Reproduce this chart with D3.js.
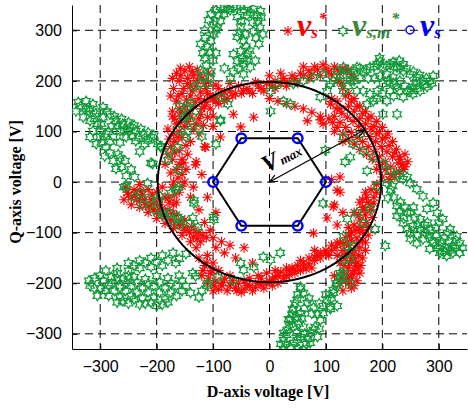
<!DOCTYPE html>
<html><head><meta charset="utf-8">
<script src="https://cdn.jsdelivr.net/npm/d3@7"></script>
<style>body{margin:0;background:#fff}</style>
</head><body><div id="chart"></div>
<script>
const xTicks = [-300,-200,-100,0,100,200,300]
const yTicks = [-300,-200,-100,0,100,200,300]
const vmax = 198
const hexVerts = [[100,0],[50,86.6],[-50,86.6],[-100,0],[-50,-86.6],[50,-86.6]]
const arrowEnds = [[0,0],[168,103]]

// v_s* (red asterisks)
const redPts = [
  [-165,215],[-150,220],[-135,210],[-120,205],[-160,200],[-145,195],[-130,190],[-112,185],[-170,185],[-155,175],[-140,170],[-125,165],[-105,170],[-165,160],[-150,150],[-135,150],[-120,145],[-172,140],[-158,130],[-140,128],[-125,125],[-165,115],[-150,110],[-135,105],[-170,95],[-155,88],[-140,80],[-175,70],[-160,62],[-145,55],[-172,45],[-160,35],[-148,25],[-175,18],[-162,8],[-150,0],[-172,-10],[-160,-20],[-178,-30],[-165,-40],
  [-158,225],[-142,228],[-128,222],[-145,205],[-115,195],[-175,170],[-160,145],[-145,140],[-168,125],[-180,105],[-160,100],[-145,120],[-168,80],[-180,55],[-155,45],[-165,25],[-185,35],[-170,0],[-155,-8],
  [-172,205],[-157,210],[-137,218],[-123,212],[-108,198],[-152,185],[-137,180],[-122,178],[-162,170],[-147,162],[-132,158],[-112,158],[-157,138],[-142,135],[-130,115],[-117,112],[-172,130],[-158,118],[-162,88],[-148,72],[-168,58],[-152,38],[-178,85],[-168,-25],[-155,15],[-140,190],[-128,200],[-108,215],
  [-115,150],[-100,130],[-125,95],[-115,70],[-130,40],[-120,15],[-135,-10],[-110,-30],[-100,110],[-95,160],[-125,-55],[-110,128],[-131,34],[-140,-30],[-87,89],[-113,69],
  [-122,134],[-105,145],[-90,155],[-75,165],[-60,175],[-46,180],[-100,165],[-85,172],[-70,180],[-115,160],[-40,185],[-30,175],[-55,190],[-70,195],[-90,185],[-64,134],[-28,128],[-51,109],
  [-95,170],[-80,160],[-65,170],[-50,175],[-35,180],[-15,185],[-25,198],[5,190],[20,195],[35,198],[45,205],[60,210],[75,212],[80,228],[105,218],[120,222],[140,222],[150,205],[-110,175],[-95,192],[-80,178],
  [-20,190],[-5,195],[10,200],[25,205],[40,210],[55,215],[70,220],[85,222],[100,225],[115,228],[10,185],[30,190],[50,195],[70,205],[90,210],[110,212],[125,215],[130,225],[134,221],[145,212],[-10,180],[0,210],[20,215],[60,228],[95,232],
  [0,165],[15,160],[30,155],[45,150],[60,145],[75,138],[90,130],[105,125],[67,121],[95,115],[90,123],
  [120,200],[130,185],[140,175],[150,165],[160,150],[170,140],[180,130],[190,120],[200,108],[210,95],[218,80],[225,65],[230,50],[235,35],[230,20],[222,10],[108,154],[118,145],[128,136],[138,128],[148,120],[158,110],[168,100],[178,90],[188,80],[198,70],[208,60],[218,50],[228,38],[237,25],[225,20],[215,30],[205,40],[195,50],[185,60],[175,70],[165,80],[155,88],[145,98],[135,108],[125,118],[115,130],[200,10],[190,25],[245,40],[110,165],[120,160],[115,100],[130,80],[240,55],[212,5],[125,10],[120,-16],[113,-49],[102,-71],
  [128,195],[135,170],[145,160],[155,150],[165,135],[175,125],[185,110],[195,100],[205,88],[212,72],[222,58],[232,45],[240,30],[215,15],[205,25],[195,35],[182,45],[172,55],[160,65],[150,75],[140,85],[130,95],[120,108],[112,118],[125,145],[140,150],[150,140],[160,125],[170,115],[180,105],[190,95],[200,85],
  [125,-200],[135,-195],[145,-190],[130,-180],[140,-170],[150,-175],[160,-180],[125,-160],[135,-150],[145,-155],[155,-160],[165,-150],[130,-135],[140,-125],[150,-135],[160,-130],[170,-120],[135,-110],[145,-100],[155,-110],[165,-100],[175,-90],[150,-85],[160,-75],[170,-65],[180,-55],[165,-50],[175,-40],[185,-30],[180,-15],[190,-5],[170,-20],[140,-90],[120,-145],[115,-185],[145,-210],[130,-215],[110,5],[125,-20],[115,-45],[130,-60],[120,-85],[155,-195],[150,-150],[140,-140],[125,-120],[160,-95],[150,-60],[160,-40],[190,-20],[78,-101],
  [128,-190],[138,-185],[148,-182],[158,-170],[132,-165],[142,-160],[152,-165],[162,-165],[128,-148],[138,-142],[148,-145],[158,-145],[170,-135],[132,-122],[145,-115],[155,-122],[165,-115],[175,-105],[142,-105],[152,-95],[162,-88],[172,-80],[182,-70],[158,-65],[168,-55],[178,-45],[172,-30],[185,-42],[165,-35],[140,-200],[150,-205],
  [-125,-150],[-115,-165],[-105,-180],[-95,-195],[-85,-205],[-110,-200],[-75,-215],[-60,-210],[-65,-195],[-50,-218],[-40,-205],[-30,-215],[-20,-200],[-10,-210],[0,-195],[-5,-180],[10,-188],[20,-178],[30,-185],[40,-170],[50,-165],[60,-160],[70,-150],[80,-155],[90,-140],[100,-135],[110,-125],[120,-120],[75,-170],[45,-180],[15,-200],[-35,-190],[-90,-175],[-100,-160],[-110,-145],[-95,-130],[-80,-140],[-70,-125],[-60,-150],[-45,-130],[-30,-160],[-100,-110],[-85,-118],[-120,-185],[-100,-215],[-80,-190],[-55,-200],[-15,-190],[5,-205],[35,-175],[65,-172],[85,-145],[105,-145],
  [-118,-175],[-108,-190],[-98,-205],[-90,-212],[-82,-198],[-70,-205],[-58,-215],[-45,-212],[-35,-205],[-25,-208],[-15,-203],[-5,-200],[5,-193],[15,-185],[25,-190],[35,-183],[45,-172],[55,-175],[60,-168],[70,-162],[80,-148],[90,-150],[100,-142],[110,-135],[118,-130],[-70,-185],[-45,-195],[-20,-185],[10,-175],[30,-170],[55,-155],[80,-135],[-112,-160],[-102,-175],
  [-250,-25],[-240,-15],[-235,-35],[-225,-25],[-220,-45],[-210,-35],[-205,-55],[-195,-45],[-190,-65],[-180,-55],[-175,-75],[-165,-65],[-160,-85],[-150,-75],[-148,-95],[-138,-88],[-135,-108],[-125,-100],[-122,-118],[-112,-110],[-245,-45],[-230,-50],[-215,-60],[-200,-72],[-185,-82],[-170,-92],[-155,-105],[-140,-118],[-200,-20],[-185,-30],[-170,-45],[-230,-5],[-215,-15],[-115,-80],[-105,-95],[-95,-60],[-255,-10],[-258,-35],[-190,-10],[-130,-130],
  [-252,-20],[-245,-30],[-238,-25],[-230,-35],[-222,-35],[-213,-48],[-205,-42],[-198,-58],[-190,-52],[-182,-68],[-172,-62],[-168,-80],[-157,-78],[-152,-90],[-142,-100],[-132,-95],[-128,-112],[-118,-105],[-228,-18],[-208,-25],[-195,-35],[-178,-40]
]

// v_s,m* (green hexagrams)
const greenPts = [
  [-339,158],[-325,160],[-313,154],[-343,140],[-330,128],[-318,121],[-295,148],[-295,128],[-283,134],[-272,121],[-260,115],[-247,109],[-237,101],[-224,95],[-210,89],[-221,75],[-313,101],[-300,89],[-290,95],[-277,89],[-265,101],[-254,89],[-237,81],[-307,75],[-290,69],[-292,51],[-277,42],[-256,42],[-272,26],[-254,12],[-239,10],[-207,36],[-193,71],[-318,89],[-198,75],[-177,61],[-305,115],[-280,110],[-250,100],[-265,78],[-230,60],[-320,140],[-308,135],
  [-335,150],[-318,145],[-300,140],[-288,140],[-275,130],[-262,125],[-250,118],[-240,112],[-228,105],[-215,98],[-205,92],[-325,145],[-310,125],[-298,115],[-285,100],[-270,110],[-258,102],[-244,92],[-232,88],[-298,78],[-282,80],[-283,58],[-268,55],[-262,30],[-245,25],[-265,48],[-300,100],[-215,82],
  [-160,150],[-150,130],[-140,120],[-130,140],[-145,100],[-125,105],[-120,90],[-134,188],[-122,221],[-140,156],[-145,148],[-152,128],[-163,103],[-148,89],[-193,69],[-180,43],[-163,69],[-161,24],[-161,-10],[-175,-22],[-210,38],[-216,-2],[-198,-36],[-228,-22],[-187,-61],[-163,-69],[-134,-42],[-99,-75],[-127,-89],[-254,-8],[-212,-34],[-194,-28],[-177,-61],[-159,-73],[-166,-14],[-141,-81],[-136,-71],[-258,-10],[-240,-30],[-225,-45],[-205,-55],[-190,-65],[-175,-75],[-160,-85],
  [-110,267],[-104,279],[-99,292],[-92,306],[-87,318],[-81,332],[-74,342],[-122,273],[-115,245],[-104,219],[-122,194],[-69,204],[-64,346],[-51,348],[-39,346],[-28,342],[-16,338],[-57,326],[-51,306],[-57,287],[-46,279],[-51,259],[-39,253],[-46,233],[-34,227],[-46,213],[-21,318],[-12,292],[-28,298],[-19,273],[-99,312],[-104,332],[-87,346],[-64,253],[-57,239],[-64,219],[-110,194],[-87,168],[-95,340],[-40,330],[-30,315],[-35,260],[-25,240],[-115,300],[-112,230],[-80,225],
  [-106,258],[-114,285],[-95,300],[-90,330],[-80,345],[-70,340],[-58,345],[-45,340],[-34,335],[-22,330],[-15,325],[-50,318],[-53,295],[-43,292],[-42,268],[-48,245],[-40,240],[-55,225],[-17,305],[-24,285],[-118,210],[-105,205],[-100,240],[-95,255],[-108,320],[-118,255],
  [2,180],[14,194],[25,160],[42,194],[60,200],[78,207],[95,213],[108,194],[37,154],[2,140],[-74,154],[-87,121],[-95,75],[102,180],[90,168],[-87,123],[99,63],[134,40],[-134,-36],[-99,-69],[95,-42],
  [120,219],[131,227],[143,213],[155,227],[166,219],[178,227],[191,233],[201,227],[214,233],[226,227],[237,219],[249,213],[261,207],[272,200],[284,200],[279,188],[267,180],[254,174],[244,180],[231,200],[237,168],[226,188],[219,207],[208,213],[214,180],[201,194],[191,180],[178,174],[166,180],[184,160],[173,154],[155,180],[143,200],[131,180],[208,160],[201,134],[226,134],[254,188],[237,233],[219,237],[125,200],[113,200],[195,245],[260,195],[290,210],[230,240],
  [125,210],[137,220],[149,220],[160,225],[172,222],[185,228],[196,238],[208,230],[220,228],[232,225],[243,225],[255,218],[266,212],[278,205],[288,195],[274,192],[262,185],[250,180],[240,190],[230,180],[220,195],[210,200],[196,210],[186,205],[175,205],[160,205],[150,200],[140,190],[220,170],[190,165],[200,175],
  [131,89],[148,75],[166,61],[184,49],[201,36],[214,22],[231,16],[143,49],[173,22],[244,10],[161,95],[191,-8],
  [208,-2],[210,-32],[226,-47],[226,-67],[244,-61],[237,-81],[254,-87],[249,-101],[267,-93],[272,-113],[284,-107],[290,-121],[302,-126],[314,-132],[325,-126],[337,-121],[332,-107],[320,-93],[307,-73],[297,-61],[290,-41],[279,-53],[272,-28],[261,-14],[249,-2],[237,6],[314,-146],[302,-140],[284,-132],[261,-121],[244,-93],[267,-73],[337,-140],[226,12],[205,-126],[187,-93],[325,-140],[310,-110],[295,-90],[280,-80],[255,-50],
  [215,-15],[220,-30],[232,-40],[240,-50],[250,-60],[258,-70],[262,-85],[275,-100],[288,-115],[298,-130],[310,-138],[320,-135],[330,-130],[342,-130],[330,-115],[318,-118],[305,-118],[295,-105],[285,-95],[275,-85],[262,-105],[250,-112],[238,-72],[230,-58],[218,-8],[300,-80],[315,-100],
  [120,-206],[113,-219],[120,-245],[108,-251],[131,-107],[138,-73],[148,-126],[143,-152],[131,-180],[155,-61],[166,-81],[178,-53],[138,-128],[131,-154],[125,-180],[143,-200],[120,-200],
  [55,-207],[60,-219],[49,-233],[42,-253],[37,-273],[32,-292],[25,-312],[25,-332],[37,-326],[49,-312],[55,-338],[60,-332],[42,-286],[55,-259],[60,-286],[67,-239],[49,-267],[113,-213],[125,-188],[108,-247],[95,-259],[90,-273],[81,-286],[72,-298],[102,-233],[85,-306],[72,-318],[55,-306],[55,-211],[41,-251],[34,-271],[25,-298],[20,-320],[65,-320],[75,-260],[88,-240],
  [50,-222],[45,-240],[40,-262],[35,-283],[30,-302],[28,-320],[43,-318],[48,-298],[52,-280],[57,-270],[62,-250],[70,-230],[78,-248],[85,-262],[95,-245],[100,-222],[110,-230],[118,-200],[130,-190],[62,-300],[68,-310],[78,-292],[88,-290],[45,-345],[52,-330],
  [-92,-188],[-110,-200],[-51,-160],[-28,-168],[-11,-148],[19,-140],[2,-154],[-64,-194],[-46,-174],
  [-250,-160],[-230,-155],[-210,-150],[-190,-145],[-171,-140],[-148,-142],
  [-290,-175],[-270,-170],[-250,-175],[-230,-170],[-210,-168],[-190,-165],[-166,-160],
  [-310,-190],[-295,-195],[-280,-188],[-260,-192],[-240,-188],[-220,-192],[-200,-186],[-180,-190],[-160,-185],[-136,-180],[-131,-186],
  [-318,-205],[-300,-210],[-285,-205],[-265,-208],[-245,-205],[-225,-210],[-205,-205],[-185,-210],[-165,-205],[-148,-206],
  [-305,-225],[-285,-225],[-265,-228],[-245,-225],[-225,-230],[-205,-228],[-185,-232],[-165,-225],[-140,-219],[-120,-215],
  [-270,-238],[-250,-240],[-230,-242],[-210,-238],[-190,-242],[-110,-205],[-125,-228],
  [-300,-185],[-280,-200],[-270,-190],[-255,-200],[-235,-198],[-215,-200],[-195,-198],[-175,-200],[-155,-195],[-240,-165],[-220,-160],[-200,-158],[-180,-155],[-160,-152],[-290,-215],[-275,-215],[-255,-215],[-235,-218],[-215,-218],[-195,-218],[-175,-218],[-155,-215],[-260,-235],[-240,-232],[-220,-240],[-200,-245],[-180,-238],[-310,-210],[-320,-195],[-270,-180],[-250,-185]
]

const W = 468, H = 410
const x = d3.scaleLinear().domain([-350,350]).range([72,467])
const y = d3.scaleLinear().domain([-330,350]).range([349,5])

const svg = d3.select("#chart").append("svg")
  .attr("width", W).attr("height", H)
  .style("font-family","'Liberation Sans', Arial, sans-serif")

const defs = svg.append("defs")
defs.append("clipPath").attr("id","plot")
  .append("rect").attr("x",72).attr("y",5).attr("width",395).attr("height",344)
defs.append("marker").attr("id","ah")
  .attr("viewBox","-10 -5 12 10").attr("refX",0).attr("refY",0)
  .attr("markerWidth",12).attr("markerHeight",10).attr("markerUnits","userSpaceOnUse")
  .attr("orient","auto-start-reverse")
  .append("path").attr("d","M-8,-3.5L0,0L-8,3.5").attr("fill","none").attr("stroke","#000").attr("stroke-width",1.2)

// grid
svg.append("g").selectAll("line").data(xTicks).join("line")
  .attr("x1",d=>x(d)).attr("x2",d=>x(d)).attr("y1",5).attr("y2",349)
  .attr("stroke","#000").attr("stroke-dasharray","8,5")
svg.append("g").selectAll("line").data(yTicks).join("line")
  .attr("y1",d=>y(d)).attr("y2",d=>y(d)).attr("x1",72).attr("x2",467)
  .attr("stroke","#000").attr("stroke-dasharray","8,5")

// axes
const xa = svg.append("g").attr("transform","translate(0,349)")
  .call(d3.axisBottom(x).tickValues(xTicks).tickSizeInner(-5).tickSizeOuter(0).tickPadding(12))
const ya = svg.append("g").attr("transform","translate(72,0)")
  .call(d3.axisLeft(y).tickValues(yTicks).tickSizeInner(-5).tickSizeOuter(0).tickPadding(10))
;[xa,ya].forEach(a=>{
  a.selectAll("text").style("font-size","16px").style("font-family","'Liberation Sans', Arial, sans-serif").attr("fill","#000")
  a.selectAll("line,path").attr("stroke","#000")
})

svg.append("text").attr("x",268).attr("y",397).attr("text-anchor","middle")
  .style("font-family","'Liberation Serif', 'Times New Roman', serif").style("font-weight","bold").style("font-size","16px")
  .text("D-axis voltage [V]")
svg.append("text").attr("transform","translate(21,182) rotate(-90)").attr("text-anchor","middle")
  .style("font-family","'Liberation Serif', 'Times New Roman', serif").style("font-weight","bold").style("font-size","16px")
  .text("Q-axis voltage [V]")

const star = "M-5,0H5M0,-5V5M-3.6,-3.6L3.6,3.6M-3.6,3.6L3.6,-3.6"
const hexagram = (function(){
  const p=[]
  for(let i=0;i<12;i++){
    const r = i%2==0 ? 5 : 2.9, a = -Math.PI/2 + i*Math.PI/6
    p.push([r*Math.cos(a), r*Math.sin(a)])
  }
  return "M"+p.map(d=>d[0].toFixed(2)+","+d[1].toFixed(2)).join("L")+"Z"
})()

const plot = svg.append("g").attr("clip-path","url(#plot)")

plot.selectAll(null).data(redPts).join("path")
  .attr("transform",d=>"translate("+x(d[0])+","+y(d[1])+")")
  .attr("d",star).attr("stroke","#ff0000").attr("stroke-width",1.1).attr("fill","none")

plot.selectAll(null).data(greenPts).join("path")
  .attr("transform",d=>"translate("+x(d[0])+","+y(d[1])+")")
  .attr("d",hexagram).attr("stroke","#109a3a").attr("stroke-width",1.2).attr("fill","none")

// Vmax circle
const circ = d3.range(0,361,3).map(a=>[vmax*Math.cos(a*Math.PI/180), vmax*Math.sin(a*Math.PI/180)])
plot.append("path").attr("d",d3.line().x(d=>x(d[0])).y(d=>y(d[1]))(circ))
  .attr("fill","none").attr("stroke","#000").attr("stroke-width",2)

// hexagon of v_s
plot.append("path").attr("d",d3.line().x(d=>x(d[0])).y(d=>y(d[1])).curve(d3.curveLinearClosed)(hexVerts))
  .attr("fill","none").attr("stroke","#000").attr("stroke-width",2)
plot.selectAll(null).data(hexVerts).join("circle")
  .attr("cx",d=>x(d[0])).attr("cy",d=>y(d[1])).attr("r",4.8)
  .attr("fill","none").attr("stroke","#0000ff").attr("stroke-width",2.4)

// Vmax arrow
svg.append("line")
  .attr("x1",x(arrowEnds[0][0])).attr("y1",y(arrowEnds[0][1]))
  .attr("x2",x(arrowEnds[1][0])).attr("y2",y(arrowEnds[1][1]))
  .attr("stroke","#000").attr("stroke-width",1.2)
  .attr("marker-start","url(#ah)").attr("marker-end","url(#ah)")
const vl = svg.append("text")
  .attr("transform","translate("+(x(0)-3)+","+(y(0)-9)+") rotate(-27)")
  .style("font-family","'Liberation Serif', 'Times New Roman', serif").style("font-weight","bold").style("font-style","italic")
vl.append("tspan").style("font-size","24px").text("V")
vl.append("tspan").style("font-size","13px").attr("dx",2).text("max")

// legend
const legendItems = [
  {mx:288, tx:297, color:"#ff0000", tcolor:"#ff0000", shape:"star", sub:"s", sup:"*"},
  {mx:343, tx:352, color:"#109a3a", tcolor:"#3b8a3b", shape:"hex", sub:"s,m", sup:"*"},
  {mx:410, tx:420, color:"#0000ff", tcolor:"#0000ff", shape:"circle", sub:"s", sup:""}
]
const lg = svg.append("g")
legendItems.forEach(it=>{
  if(it.shape=="star") lg.append("path").attr("transform","translate("+it.mx+",31)").attr("d",star).attr("stroke",it.color).attr("stroke-width",1.1).attr("fill","none")
  if(it.shape=="hex") lg.append("path").attr("transform","translate("+it.mx+",31)").attr("d",hexagram).attr("stroke",it.color).attr("stroke-width",1.2).attr("fill","none")
  if(it.shape=="circle") lg.append("circle").attr("cx",it.mx).attr("cy",30).attr("r",4).attr("stroke",it.color).attr("stroke-width",1.5).attr("fill","none")
  const t = lg.append("text").attr("x",it.tx).attr("y",36).attr("fill",it.tcolor)
    .style("font-family","'Liberation Serif', 'Times New Roman', serif").style("font-weight","bold").style("font-style","italic")
  t.append("tspan").style("font-size","32px").text("v")
  t.append("tspan").style("font-size","17px").attr("dy",2).text(it.sub)
  if(it.sup) t.append("tspan").style("font-size","16px").attr("dy",-14).attr("dx",1).text(it.sup)
})
</script>
</body></html>
